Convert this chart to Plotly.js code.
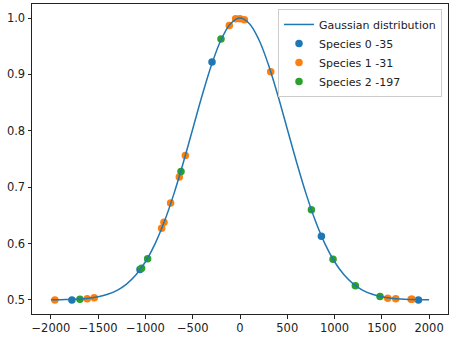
<!DOCTYPE html>
<html>
<head>
<meta charset="utf-8">
<script src="https://cdn.plot.ly/plotly-3.0.1.min.js"></script>
<style>
  html, body { margin: 0; padding: 0; background: #fff; }
  #chart { width: 451px; height: 343px; }
</style>
</head>
<body>
<div id="chart"></div>
<script>
// Fitted curve, sampled every 100 units
const curveX = [-2000, -1900, -1800, -1700, -1600, -1500, -1400, -1300, -1200, -1100,
                -1000, -900, -800, -700, -600, -500, -400, -300, -200, -100,
                0, 100, 200, 300, 400, 500, 600, 700, 800, 900,
                1000, 1100, 1200, 1300, 1400, 1500, 1600, 1700, 1800, 1900, 2000];
const curveY = [0.5002, 0.5004, 0.5008, 0.5015, 0.5030, 0.5056, 0.5099, 0.5170, 0.5281, 0.5445,
                0.5677, 0.5990, 0.6390, 0.6877, 0.7434, 0.8033, 0.8631, 0.9177, 0.9616, 0.9901,
                1.0000, 0.9901, 0.9616, 0.9177, 0.8631, 0.8033, 0.7434, 0.6877, 0.6390, 0.5990,
                0.5677, 0.5445, 0.5281, 0.5170, 0.5099, 0.5056, 0.5030, 0.5015, 0.5008, 0.5004, 0.5002];

// Observations per species
const species0X = [-1778, -1058, -296, 861, 1887];
const species0Y = [0.500, 0.554, 0.922, 0.613, 0.500];

const species1X = [-1958, -1616, -1542, -829, -804, -734, -642, -578, -113, -46, 0, 46, 325, 1563, 1647, 1810, 1820];
const species1Y = [0.500, 0.502, 0.504, 0.627, 0.638, 0.672, 0.718, 0.756, 0.987, 0.999, 0.999, 0.997, 0.905, 0.503, 0.502, 0.501, 0.501];

const species2X = [-1693, -1041, -977, -624, -201, 755, 984, 1220, 1481];
const species2Y = [0.501, 0.556, 0.573, 0.728, 0.963, 0.660, 0.572, 0.525, 0.506];

const seriesNames = ['Gaussian distribution', 'Species 0 -35', 'Species 1 -31', 'Species 2 -197'];
const colors = ['#1f77b4', '#ff7f0e', '#2ca02c'];

const xTicks = [-2000, -1500, -1000, -500, 0, 500, 1000, 1500, 2000];
const yTicks = [0.5, 0.6, 0.7, 0.8, 0.9, 1.0];

function scatterTrace(xs, ys, name, color, rank) {
  return {
    x: xs, y: ys, name: name, type: 'scatter', mode: 'markers',
    marker: { color: color, size: 7.5, line: { width: 0 } },
    legendrank: rank
  };
}

const data = [
  scatterTrace(species0X, species0Y, seriesNames[1], colors[0], 2),
  scatterTrace(species1X, species1Y, seriesNames[2], colors[1], 3),
  scatterTrace(species2X, species2Y, seriesNames[3], colors[2], 4),
  {
    x: curveX, y: curveY, name: seriesNames[0], type: 'scatter', mode: 'lines',
    line: { color: colors[0], width: 1.5, shape: 'spline', smoothing: 1 },
    legendrank: 1
  }
];

const axisCommon = {
  showgrid: false, zeroline: false,
  showline: true, mirror: true, linecolor: '#222', linewidth: 1,
  ticks: 'outside', ticklen: 3.5, tickwidth: 1, tickcolor: '#222',
  tickfont: { family: 'DejaVu Sans', size: 11.5, color: '#222' }
};

const layout = {
  width: 451, height: 343,
  margin: { l: 32, r: 3, t: 4, b: 29 },
  paper_bgcolor: '#fff', plot_bgcolor: '#fff',
  showlegend: true,
  legend: {
    x: 0.9856, y: 0.984, xanchor: 'right', yanchor: 'top',
    bgcolor: 'rgba(255,255,255,0.8)', bordercolor: '#cccccc', borderwidth: 1,
    font: { family: 'DejaVu Sans', size: 11, color: '#222' },
    itemwidth: 30, tracegroupgap: 0
  },
  xaxis: Object.assign({}, axisCommon, {
    range: [-2200, 2200], tickvals: xTicks, ticktext: xTicks.map(v => v < 0 ? '\u2212' + Math.abs(v) : String(v))
  }),
  yaxis: Object.assign({}, axisCommon, {
    range: [0.475, 1.025], tickvals: yTicks, ticktext: yTicks.map(v => v.toFixed(1))
  })
};

Plotly.newPlot('chart', data, layout, { staticPlot: true, displayModeBar: false });
</script>
</body>
</html>
